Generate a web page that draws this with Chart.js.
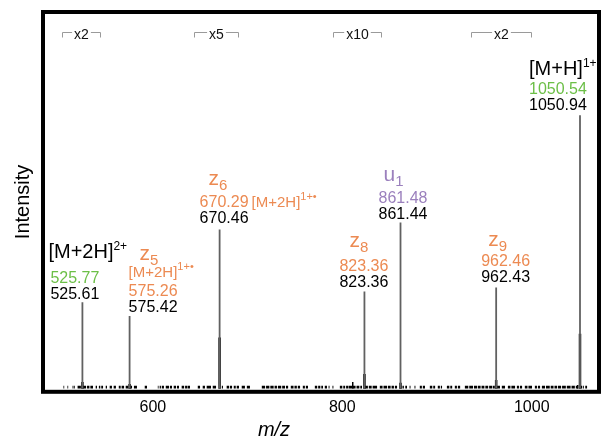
<!DOCTYPE html>
<html>
<head>
<meta charset="utf-8">
<script src="https://cdn.jsdelivr.net/npm/chart.js@4/dist/chart.umd.min.js"></script>
<style>
  body { margin: 0; background: #fff; }
  #wrap { width: 601px; height: 443px; }
</style>
</head>
<body>
<div id="wrap"><canvas id="spectrum"></canvas></div>
<script>
// annotated peaks (observed m/z, peak height, height of the label stem)
const peakMz = [525.61, 575.42, 670.46, 823.36, 861.44, 962.43, 1050.94];
const peakIntensity = [1.8, 1.3, 13.6, 3.9, 1.6, 2.3, 14.6];
const stemHeight = [23.0, 19.3, 42.3, 25.8, 44.1, 26.9, 72.6];
const theoMz = ['525.77', '575.26', '670.29', '823.36', '861.48', '962.46', '1050.54'];
const ionName = ['[M+2H]', 'z', 'z', 'z', 'u', 'z', '[M+H]'];
const ionScript = ['2+', '5', '6', '8', '1', '9', '1+'];
const ionType = ['precursor', 'z', 'z', 'z', 'u', 'z', 'precursor'];
const extraIon = ['', '[M+2H]', '[M+2H]', '', '', '', ''];
const extraScript = ['', '1+•', '1+•', '', '', '', ''];

// small unlabelled peaks
const minorMz = [811.0, 1048.5];
const minorIntensity = [1.8, 1.0];

// baseline noise, as runs of m/z
const noiseFrom = [505.6, 509.8, 515.2, 517, 520.5, 525, 530.5, 534, 539.6, 543, 545.5, 550.2, 554.4, 558.6, 564, 567, 571.3, 575, 580, 591.4,
  605.2, 607.2, 609.4, 613.6, 618, 622, 625.5, 630.4, 634, 637, 647.4, 652.6, 656.8, 663.2, 672.8, 677.9, 681.4, 685.4, 688.5, 693.8,
  699.2, 715, 719.5, 724, 728.5, 732, 736.5, 740.5, 745.6, 749.5, 753, 758.3, 761.5, 771, 774.5, 777.8, 781.5, 785.5, 789.6, 797.4,
  801, 804, 807, 811.2, 815, 819, 823.8, 828, 832, 839.6, 843.5, 848.1, 852, 855.5, 860.6, 863.5, 866.5, 871, 876.2, 881.8,
  885, 892.4, 896, 900.8, 904, 910.4, 914, 918.8, 922, 929.4, 934, 939, 943.1, 947, 951, 955, 958.9, 963.5, 968.4, 974.8,
  978.5, 984.3, 987.5, 992.7, 996.5, 1003.3, 1006.5, 1010.7, 1015, 1020, 1024, 1027.6, 1032, 1037, 1042, 1046.5, 1052, 1054, 1056.5];
const noiseTo = [506.4, 510.6, 516.2, 517.8, 524, 529.5, 533, 536.8, 541, 544.5, 547.4, 551.6, 556.8, 561, 566, 569.6, 574, 578, 583.2, 593.8,
  606, 608.5, 611.7, 617, 620.2, 624.5, 627.6, 633, 636.5, 639.2, 649.8, 655, 661.4, 666.7, 674, 680.5, 683.6, 687.5, 690.9, 697.2,
  702.5, 718.5, 723, 727.5, 731, 735.5, 739.5, 742.8, 748.5, 752, 755.4, 760.5, 763.8, 773.5, 776.8, 779.6, 783.8, 786.5, 790.6, 800,
  803, 806.5, 810.2, 814, 818, 820.8, 827, 831, 836.7, 842.5, 847.2, 851, 854.5, 857.8, 862.5, 865, 868.3, 872, 877.2, 884,
  887.3, 895, 898, 903, 905.3, 913, 916, 921, 924.4, 933, 938, 942.3, 946, 950, 954, 958.2, 961, 966.5, 971.8, 977.5,
  982.4, 986.5, 989.8, 995.5, 1000.3, 1005.5, 1008.8, 1014, 1019, 1023, 1026.7, 1031, 1036, 1041, 1045.5, 1048, 1053.2, 1055, 1058.4];
const noiseLevel = 0.45;

// magnified regions marked above the spectrum
const zoomText = ['x2', 'x5', 'x10', 'x2'];
const zoomFrom = [504, 643, 790, 936];
const zoomTo = [544, 690, 841, 999];

const xTicks = [600, 800, 1000];

const FONT = '"Liberation Sans", Arial, Helvetica, sans-serif';
const typeColor = { precursor: '#6cbf47', z: '#ec8a52', u: '#9b80bd' };
const nameColor = { precursor: '#000', z: '#ec8a52', u: '#9b80bd' };

// pixel offsets of each label block from its peak
const labelLayout = [
  { numDx: -32, nameDx: -34, nameDy: -41, gap: 3 },
  { numDx: -1, nameDx: 10, nameDy: -52, gap: 4, extraDx: -1, extraDy: -35 },
  { numDx: -20, nameDx: -11, nameDy: -38, gap: 6, inline: true },
  { numDx: -25, nameDx: -15, nameDy: -40, gap: 5 },
  { numDx: -22, nameDx: -17, nameDy: -38, gap: 4 },
  { numDx: -15, nameDx: -8, nameDy: -36, gap: 5 },
  { numDx: -51, nameDx: -51, nameDy: -35, gap: 5 }
];

function sticks(xs, hs) {
  const pts = [];
  xs.forEach((m, i) => {
    pts.push({ x: m, y: 0 }, { x: m, y: hs[i] }, { x: m, y: null });
  });
  return pts;
}

function runs(from, to, level) {
  const pts = [];
  from.forEach((m, i) => {
    pts.push({ x: m, y: level }, { x: to[i], y: level }, { x: to[i], y: null });
  });
  return pts;
}

function drawParts(ctx, parts, x, y) {
  parts.forEach(p => {
    ctx.font = (p.italic ? 'italic ' : '') + p.size + 'px ' + FONT;
    ctx.fillText(p.text, x, y + (p.dy || 0));
    x += ctx.measureText(p.text).width;
  });
  return x;
}

function nameParts(i) {
  if (ionType[i] === 'precursor') {
    return [{ text: ionName[i], size: 20 }, { text: ionScript[i], size: 12, dy: -8 }];
  }
  return [{ text: ionName[i], size: 21 }, { text: ionScript[i], size: 15, dy: 5 }];
}

const annotations = {
  id: 'annotations',
  afterDraw(chart) {
    const { ctx, chartArea: a, scales: { x, y } } = chart;
    ctx.save();
    ctx.strokeStyle = '#000';
    ctx.lineWidth = 4;
    ctx.strokeRect(a.left, a.top, a.right - a.left, a.bottom - a.top);

    ctx.textAlign = 'left';
    ctx.textBaseline = 'alphabetic';
    peakMz.forEach((mz, i) => {
      const L = labelLayout[i];
      const px = x.getPixelForValue(mz);
      const base = y.getPixelForValue(stemHeight[i]) - L.gap;
      ctx.fillStyle = '#000';
      drawParts(ctx, [{ text: mz.toFixed(2), size: 16 }], px + L.numDx, base);
      ctx.fillStyle = typeColor[ionType[i]];
      const end = drawParts(ctx, [{ text: theoMz[i], size: 16 }], px + L.numDx, base - 16);
      if (extraIon[i]) {
        const parts = [{ text: extraIon[i], size: 15 }, { text: extraScript[i], size: 11, dy: -7 }];
        ctx.fillStyle = typeColor.z;
        if (L.inline) drawParts(ctx, parts, end + 3, base - 16);
        else drawParts(ctx, parts, px + L.extraDx, base + L.extraDy);
      }
      ctx.fillStyle = nameColor[ionType[i]];
      drawParts(ctx, nameParts(i), px + L.nameDx, base + L.nameDy);
    });

    // magnification brackets
    ctx.lineWidth = 1;
    ctx.strokeStyle = '#9a9a9a';
    ctx.font = '14px ' + FONT;
    ctx.textAlign = 'center';
    zoomText.forEach((t, i) => {
      const x0 = Math.round(x.getPixelForValue(zoomFrom[i])) + 0.5;
      const x1 = Math.round(x.getPixelForValue(zoomTo[i])) + 0.5;
      const ly = a.top + 20.5;
      const cx = (x0 + x1) / 2;
      const w = ctx.measureText(t).width;
      ctx.beginPath();
      ctx.moveTo(x0, ly + 5);
      ctx.lineTo(x0, ly);
      ctx.lineTo(cx - w / 2 - 2, ly);
      ctx.moveTo(cx + w / 2 + 2, ly);
      ctx.lineTo(x1, ly);
      ctx.lineTo(x1, ly + 5);
      ctx.stroke();
      ctx.fillStyle = '#111';
      ctx.fillText(t, cx, ly + 6);
    });

    // x axis title
    ctx.fillStyle = '#000';
    ctx.font = 'italic 20px ' + FONT;
    ctx.fillText('m/z', a.left + 231, chart.height - 7);
    ctx.restore();
  }
};

Chart.defaults.font.family = FONT;
Chart.defaults.color = '#000';

new Chart(document.getElementById('spectrum'), {
  type: 'line',
  data: {
    datasets: [
      { data: sticks(peakMz, stemHeight), borderColor: '#616161', borderWidth: 1.8 },
      { data: sticks(peakMz, peakIntensity), borderColor: '#000', borderWidth: 2.5 },
      { data: sticks(minorMz, minorIntensity), borderColor: '#000', borderWidth: 1.5 },
      { data: runs(noiseFrom, noiseTo, noiseLevel), borderColor: '#000', borderWidth: 2.8 }
    ]
  },
  options: {
    responsive: true,
    maintainAspectRatio: false,
    animation: false,
    spanGaps: false,
    elements: { point: { radius: 0 }, line: { tension: 0, borderCapStyle: 'butt' } },
    layout: { padding: { left: 7, top: 12, right: 2, bottom: 20 } },
    plugins: { legend: { display: false }, tooltip: { enabled: false } },
    scales: {
      x: {
        type: 'linear',
        min: 484,
        max: 1071,
        grid: { display: false, drawTicks: false },
        border: { display: false },
        afterBuildTicks: axis => { axis.ticks = xTicks.map(v => ({ value: v })); },
        ticks: { color: '#000', font: { size: 16 }, padding: 6, maxRotation: 0, callback: v => String(v) }
      },
      y: {
        min: -0.8,
        max: 100,
        grid: { display: false, drawTicks: false },
        border: { display: false },
        ticks: { display: false },
        title: { display: true, text: 'Intensity', color: '#000', font: { size: 20 }, padding: { top: 4, bottom: 8 } }
      }
    }
  },
  plugins: [annotations]
});
</script>
</body>
</html>
